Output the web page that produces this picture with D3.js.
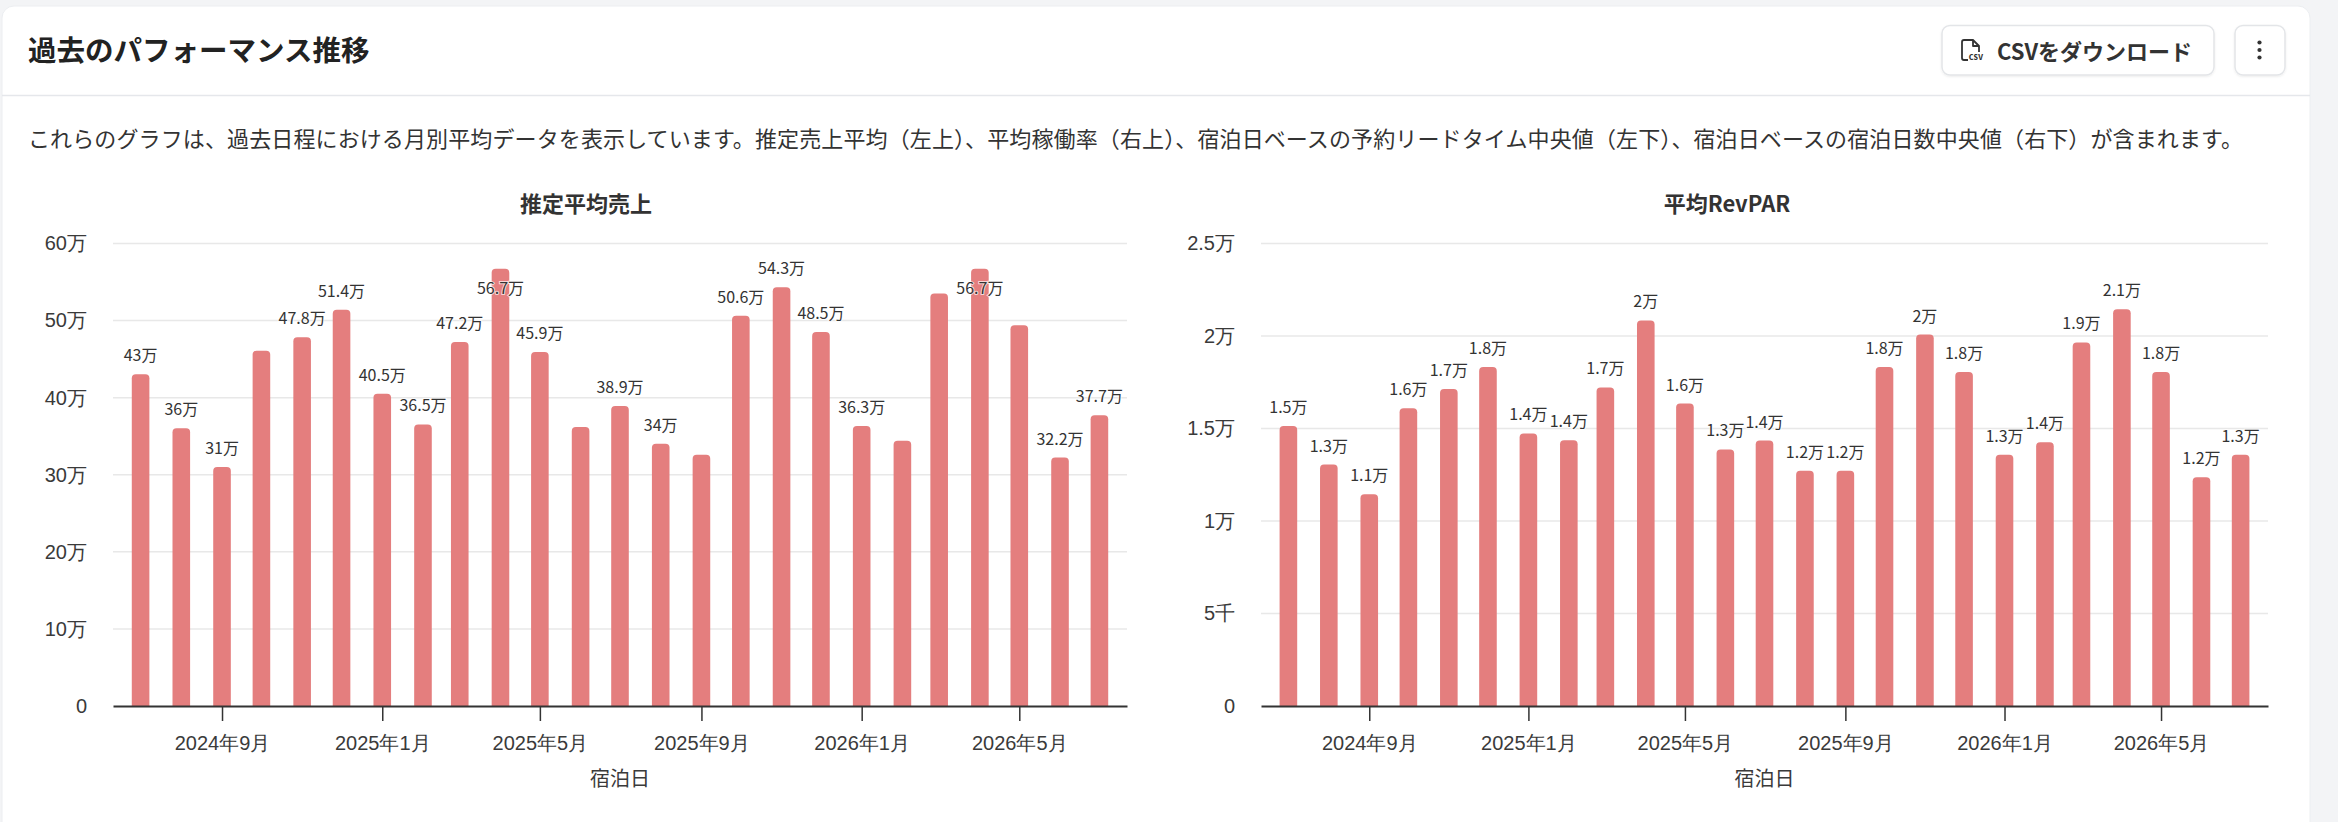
<!DOCTYPE html>
<html><head><meta charset="utf-8">
<script src="https://cdn.jsdelivr.net/npm/d3@7/dist/d3.min.js"></script>
<style>
html,body{margin:0;padding:0;background:#f3f4f6;}
svg{display:block;font-family:"Noto Sans CJK JP","Noto Sans",sans-serif;}
</style></head>
<body><svg id="c" width="2338" height="822"></svg>
<script>
// ---- data ----
const months = ["2024-07-01","2024-08-01","2024-09-01","2024-10-01","2024-11-01","2024-12-01",
  "2025-01-01","2025-02-01","2025-03-01","2025-04-01","2025-05-01","2025-06-01","2025-07-01",
  "2025-08-01","2025-09-01","2025-10-01","2025-11-01","2025-12-01","2026-01-01","2026-02-01",
  "2026-03-01","2026-04-01","2026-05-01","2026-06-01","2026-07-01"];
const revenue = [430400,360300,310200,461000,478300,514200,405100,365200,472300,567200,459300,362000,
  389200,340300,326000,506200,543200,485300,363200,344000,535000,567300,494000,322300,377200];
const revpar = [15140,13050,11450,16100,17130,18330,14730,14370,17220,20840,16350,13870,14350,
  12710,12710,18330,20080,18050,13580,14260,19650,21450,18050,12360,13580];
const xTickDates = ["2024-09-01","2025-01-01","2025-05-01","2025-09-01","2026-01-01","2026-05-01"];
const xTickLabels = ["2024年9月","2025年1月","2025年5月","2025年9月","2026年1月","2026年5月"];
const revTicks = [0,100000,200000,300000,400000,500000,600000];
const revTickLabels = ["0","10万","20万","30万","40万","50万","60万"];
const parTicks = [0,5000,10000,15000,20000,25000];
const parTickLabels = ["0","5千","1万","1.5万","2万","2.5万"];
const titleMain = "過去のパフォーマンス推移";
const description = "これらのグラフは、過去日程における月別平均データを表示しています。推定売上平均（左上）、平均稼働率（右上）、宿泊日ベースの予約リードタイム中央値（左下）、宿泊日ベースの宿泊日数中央値（右下）が含まれます。";
const chartTitles = ["推定平均売上","平均RevPAR"];
const xAxisName = "宿泊日";

// ---- layout ----
const svg = d3.select("#c");
const TXT = "#333333";
svg.append("rect").attr("x",2).attr("y",6).attr("width",2308).attr("height",900)
  .attr("rx",12).attr("fill","#fff").attr("stroke","#eceef1").attr("stroke-width",1);
svg.append("text").attr("x",28).attr("y",48).attr("dominant-baseline","central")
  .attr("font-size",28.5).attr("font-weight",700).attr("fill","#222").text(titleMain);
svg.append("line").attr("x1",2).attr("x2",2310).attr("y1",95.5).attr("y2",95.5)
  .attr("stroke","#e5e7eb").attr("stroke-width",1.5);
const desc = svg.append("text").attr("x",28).attr("y",137).attr("dominant-baseline","central")
  .attr("font-size",22).attr("fill",TXT).text(description);
desc.attr("textLength",2215).attr("lengthAdjust","spacing");

// buttons
const defs = svg.append("defs");
const f = defs.append("filter").attr("id","sh").attr("x","-10%").attr("y","-20%").attr("width","120%").attr("height","150%");
f.append("feDropShadow").attr("dx",0).attr("dy",1).attr("stdDeviation",1).attr("flood-color","#000").attr("flood-opacity",0.08);
svg.append("rect").attr("x",1942).attr("y",25.5).attr("width",272).attr("height",49.5).attr("rx",8)
  .attr("fill","#fff").attr("stroke","#e3e5e8").attr("stroke-width",1.5).attr("filter","url(#sh)");
svg.append("rect").attr("x",2235).attr("y",25.5).attr("width",50).attr("height",49.5).attr("rx",8)
  .attr("fill","#fff").attr("stroke","#e3e5e8").attr("stroke-width",1.5).attr("filter","url(#sh)");
// csv icon
svg.append("path").attr("d","M1968,60 L1964,60 Q1962,60 1962,58 L1962,42 Q1962,40 1964,40 L1973,40 L1979,46 L1979,52 M1973,40 L1973,46 L1979,46")
  .attr("fill","none").attr("stroke","#333").attr("stroke-width",1.8).attr("stroke-linejoin","round");
svg.append("text").attr("x",1976).attr("y",60).attr("text-anchor","middle").attr("font-size",9)
  .attr("font-weight",700).attr("fill","#333").text("csv");
svg.append("text").attr("x",1997).attr("y",50).attr("dominant-baseline","central")
  .attr("font-size",22).attr("font-weight",700).attr("fill","#333").text("CSVをダウンロード");
[42.5,50,57.5].forEach(cy=>svg.append("circle").attr("cx",2259.5).attr("cy",cy).attr("r",2.1).attr("fill","#333"));

// ---- charts ----
const parse = d3.utcParse("%Y-%m-%d");
const dates = months.map(parse);
const padDays = 21;
const BAR = "#e47e7e";

function fmtLabel(v){
  const t = Math.floor(v/1000)/10;
  return (Number.isInteger(t) ? t.toFixed(0) : t.toFixed(1)) + "万";
}

function drawChart(opt){
  const {x0,x1,yTop,yBot,values,ticks,tickLabels,title,titleX} = opt;
  const g = svg.append("g");
  const x = d3.scaleUtc()
    .domain([d3.utcDay.offset(dates[0],-padDays), d3.utcDay.offset(dates[dates.length-1],padDays)])
    .range([x0,x1]);
  const y = d3.scaleLinear().domain([ticks[0],ticks[ticks.length-1]]).range([yBot,yTop]);

  g.append("text").attr("x",titleX).attr("y",202).attr("text-anchor","middle").attr("dominant-baseline","central")
    .attr("font-size",22).attr("font-weight",700).attr("fill",TXT).text(title);

  // grid
  g.append("g").selectAll("line").data(ticks.slice(1)).join("line")
    .attr("x1",x0).attr("x2",x1).attr("y1",d=>y(d)).attr("y2",d=>y(d))
    .attr("stroke","#e8e8e8").attr("stroke-width",1.5);

  // y axis labels
  const ya = g.append("g").attr("transform",`translate(${x0},0)`)
    .call(d3.axisLeft(y).tickValues(ticks).tickSize(0).tickPadding(26).tickFormat((d,i)=>tickLabels[i]));
  ya.select(".domain").remove();
  ya.selectAll("text").attr("font-size",20).attr("fill","#3a3a3a").attr("font-family",null);

  // bars
  const bw = 17.6, r = 4;
  g.append("g").selectAll("path").data(values).join("path")
    .attr("d",(v,i)=>{
      const cx = x(dates[i]), l = cx-bw/2, rr = cx+bw/2, t = y(v), b = y(0);
      return `M${l},${b}L${l},${t+r}Q${l},${t} ${l+r},${t}L${rr-r},${t}Q${rr},${t} ${rr},${t+r}L${rr},${b}Z`;
    })
    .attr("fill",BAR);

  // x axis
  const xa = g.append("g").attr("transform",`translate(0,${yBot})`)
    .call(d3.axisBottom(x).tickValues(xTickDates.map(parse)).tickSize(15).tickSizeOuter(0)
      .tickFormat((d,i)=>xTickLabels[i]));
  xa.select(".domain").attr("stroke","#333").attr("stroke-width",2);
  xa.selectAll(".tick line").attr("stroke","#333").attr("stroke-width",1.5);
  xa.selectAll("text").attr("font-size",20).attr("fill","#3a3a3a").attr("font-family",null)
    .attr("y",37).attr("dy","0.35em");
  g.append("text").attr("x",(x0+x1)/2).attr("y",777).attr("text-anchor","middle").attr("dominant-baseline","central")
    .attr("font-size",20).attr("fill","#3a3a3a").text(xAxisName);

  // value labels
  const labs = g.append("g").selectAll("text").data(values).join("text")
    .attr("x",(v,i)=>x(dates[i]))
    .attr("y",v=>{ const ty = y(v)-20; return ty < yTop+12 ? y(v)+18 : ty; })
    .attr("text-anchor","middle").attr("dominant-baseline","central")
    .attr("font-size",16).attr("fill","#333")
    .attr("stroke","#fff").attr("stroke-width",2).attr("paint-order","stroke").attr("stroke-opacity",0.7)
    .text(v=>fmtLabel(v));
  // hide overlapping labels (higher values first)
  const nodes = labs.nodes().map((n,i)=>({n,v:values[i],x:+n.getAttribute("x"),y:+n.getAttribute("y"),w:n.getComputedTextLength()}));
  const kept = [];
  nodes.slice().sort((a,b)=>b.v-a.v).forEach(o=>{
    const h = 21.6, padX = 0.8;
    const hit = kept.some(k=>Math.abs(k.x-o.x) < (k.w+o.w)/2 + padX && Math.abs(k.y-o.y) < h);
    if(hit) o.n.setAttribute("display","none"); else kept.push(o);
  });
}

drawChart({x0:113,x1:1127,yTop:243.5,yBot:706,values:revenue,ticks:revTicks,tickLabels:revTickLabels,title:chartTitles[0],titleX:586});
drawChart({x0:1261,x1:2268,yTop:243.5,yBot:706,values:revpar,ticks:parTicks,tickLabels:parTickLabels,title:chartTitles[1],titleX:1727});
</script></body></html>
